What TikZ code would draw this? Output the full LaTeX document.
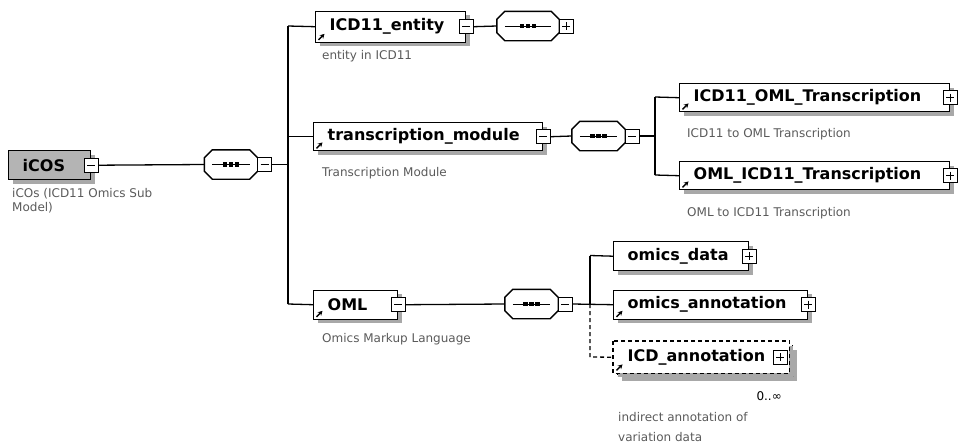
\documentclass[tikz,border=0pt]{standalone}
\usepackage{fontspec}
\setmainfont{DejaVu Sans}
\usetikzlibrary{shadows,arrows.meta}
\definecolor{shadowgray}{HTML}{A8A8A8}
\definecolor{descgray}{HTML}{5A5A5A}
\definecolor{rootgray}{HTML}{B4B4B4}
\tikzset{
  conn/.style={line width=1.3pt},
  dconn/.style={line width=1.3pt, dash pattern=on 4pt off 3pt},
  shad/.style={drop shadow={shadow xshift=4pt, shadow yshift=-4pt, fill=shadowgray, opacity=1}},
  elbox/.style={draw, line width=1.4pt, fill=white, anchor=north west, inner xsep=14pt, inner ysep=0pt,
     align=left, font=\fontsize{16}{16}\selectfont\bfseries, shad},
  signbase/.style={draw, fill=white, line width=1pt, minimum size=14pt, inner sep=0pt},
  minusbox/.style={signbase, path picture={\draw[line width=1pt] ([xshift=3pt]path picture bounding box.west) -- ([xshift=-3pt]path picture bounding box.east);}},
  plusbox/.style={signbase, path picture={\draw[line width=1pt] ([xshift=3pt]path picture bounding box.west) -- ([xshift=-3pt]path picture bounding box.east);
     \draw[line width=1pt] ([yshift=-3pt]path picture bounding box.north) -- ([yshift=3pt]path picture bounding box.south);}},
  seqbox/.style={rectangle, draw=none, minimum width=53pt, minimum height=29pt, inner sep=0pt},
  octo/.style={line width=1.4pt, draw, fill=white},
  desc/.style={anchor=base west, inner sep=0pt, text=descgray, font=\fontsize{12}{14}\selectfont},
  refarrow/.style={-{Stealth[length=4.5pt,width=5pt]}, line width=1.4pt},
}
% octagon outline for a sequence compositor node
\newcommand\octpath[1]{([xshift=8pt]#1.north west) -- ([xshift=-8pt]#1.north east) -- ([yshift=-8pt]#1.north east)
   -- ([yshift=8pt]#1.south east) -- ([xshift=-8pt]#1.south east) -- ([xshift=8pt]#1.south west)
   -- ([yshift=8pt]#1.south west) -- ([yshift=-8pt]#1.north west) -- cycle}
\newcommand\seqdraw[1]{%
  \fill[shadowgray, shift={(4pt,-4pt)}] \octpath{#1};
  \path[octo] \octpath{#1};
  \draw[line width=1pt] ([xshift=8pt]#1.west) -- ([xshift=-8pt]#1.east);
  \foreach \d in {-6,0,6} \fill ([xshift=\d pt]#1.center) +(-2.2pt,-2.2pt) rectangle +(2.2pt,2.2pt);}
\newcommand\refmark[1]{\draw[refarrow] ([shift={(3.5pt,3pt)}]#1.south west) -- ++(6pt,6pt);}
\begin{document}
\begin{tikzpicture}[x=1pt,y=-1pt]
\useasboundingbox (0,0) rectangle (959,445);

% root
\node[elbox, fill=rootgray, minimum width=82pt, minimum height=29pt, text width=54pt] (icos) at (8,150) {iCOS};
\node[minusbox] (icosS) at (icos.east) {};
\node[desc] (icosD) at (12,197) {iCOs (ICD11 Omics Sub};
\node[desc] (icosD2) at (12,211) {Model)};

% sequence 1
\node[seqbox] (s1) at (231,164.5) {};
\seqdraw{s1}
\node[minusbox] (s1S) at ([xshift=7pt]s1.east) {};
\draw[conn] (icosS.east) -- (s1.west);
\coordinate (v1top) at (288,26);
\coordinate (v1bot) at (288,304);
\draw[conn] (s1S.east) -- (s1S.east -| v1top);
\draw[conn] (v1top) -- (v1bot);

% ICD11_entity
\node[elbox, minimum width=150pt, minimum height=31pt, text width=122pt] (ent) at (315,10.5) {ICD11\_entity};
\refmark{ent}
\node[minusbox] (entS) at (ent.east) {};
\node[desc] (entD) at (322,59) {entity in ICD11};
\draw[conn] (v1top) -- (ent.west);
\node[seqbox, minimum width=62pt] (s2) at (528,26) {};
\seqdraw{s2}
\node[plusbox] (s2S) at ([xshift=7pt]s2.east) {};
\draw[conn] (entS.east) -- (s2.west);

% transcription_module
\node[elbox, minimum width=229pt, minimum height=28pt, text width=201pt] (tm) at (313,122) {transcription\_module};
\refmark{tm}
\node[minusbox] (tmS) at (tm.east) {};
\node[desc] (tmD) at (322,176) {Transcription Module};
\draw[conn] (tm.west -| v1top) -- (tm.west);
\node[seqbox] (s3) at (598.5,136) {};
\seqdraw{s3}
\node[minusbox] (s3S) at ([xshift=7pt]s3.east) {};
\draw[conn] (tmS.east) -- (s3.west);
\coordinate (v2top) at (655,97);
\coordinate (v2bot) at (655,175);
\draw[conn] (s3S.east) -- (s3S.east -| v2top);
\draw[conn] (v2top) -- (v2bot);

\node[elbox, minimum width=270pt, minimum height=28pt, text width=242pt] (iot) at (679,83) {ICD11\_OML\_Transcription};
\refmark{iot}
\node[plusbox] (iotS) at (iot.east) {};
\node[desc] (iotD) at (687,137) {ICD11 to OML Transcription};
\draw[conn] (v2top) -- (iot.west);

\node[elbox, minimum width=270pt, minimum height=28pt, text width=242pt] (oit) at (679,161) {OML\_ICD11\_Transcription};
\refmark{oit}
\node[plusbox] (oitS) at (oit.east) {};
\node[desc] (oitD) at (687,216) {OML to ICD11 Transcription};
\draw[conn] (v2bot) -- (oit.west);

% OML
\node[elbox, minimum width=84pt, minimum height=29pt, text width=56pt] (oml) at (313,289.5) {OML};
\refmark{oml}
\node[minusbox] (omlS) at (oml.east) {};
\node[desc] (omlD) at (322,342) {Omics Markup Language};
\draw[conn] (v1bot) -- (oml.west);
\node[seqbox] (s4) at (531.5,304) {};
\seqdraw{s4}
\node[minusbox] (s4S) at ([xshift=7pt]s4.east) {};
\draw[conn] (omlS.east) -- (s4.west);
\coordinate (v3top) at (590,255.5);
\coordinate (v3mid) at (590,304);
\coordinate (v3bot) at (590,357);

\node[elbox, minimum width=135pt, minimum height=29pt, text width=107pt] (od) at (613,241) {omics\_data};
\node[plusbox] (odS) at (od.east) {};
\node[elbox, minimum width=194pt, minimum height=29pt, text width=166pt] (oa) at (613,289.5) {omics\_annotation};
\refmark{oa}
\node[plusbox] (oaS) at (oa.east) {};
\draw[conn] (s4S.east) -- (oa.west);
\draw[conn] (v3top) -- (v3mid);
\draw[conn] (v3top) -- (od.west);

% ICD_annotation (optional, repeated)
\node[draw, fill=white, line width=1.2pt, dash pattern=on 4pt off 3pt, minimum width=175pt, minimum height=31pt, anchor=north west, inner sep=0pt, shad] (icaB) at (617,345) {};
\node[elbox, draw=none, drop shadow={opacity=0}, minimum width=175pt, minimum height=31pt, text width=147pt] (ica) at (613,341) {ICD\_annotation};
\draw[line width=1.2pt, dash pattern=on 4pt off 3pt] (ica.north west) rectangle (ica.south east);
\refmark{ica}
\node[plusbox] (icaS) at ([xshift=-9pt]ica.east) {};
\draw[dconn] (v3mid) -- (v3bot) -- (ica.west);
\node[anchor=base east, inner sep=0pt, font=\fontsize{12}{14}\selectfont] (icaM) at (782,400) {0..∞};
\node[desc] (icaD) at (618,421) {indirect annotation of};
\node[desc] (icaD2) at (618,441) {variation data};
\end{tikzpicture}
\end{document}
